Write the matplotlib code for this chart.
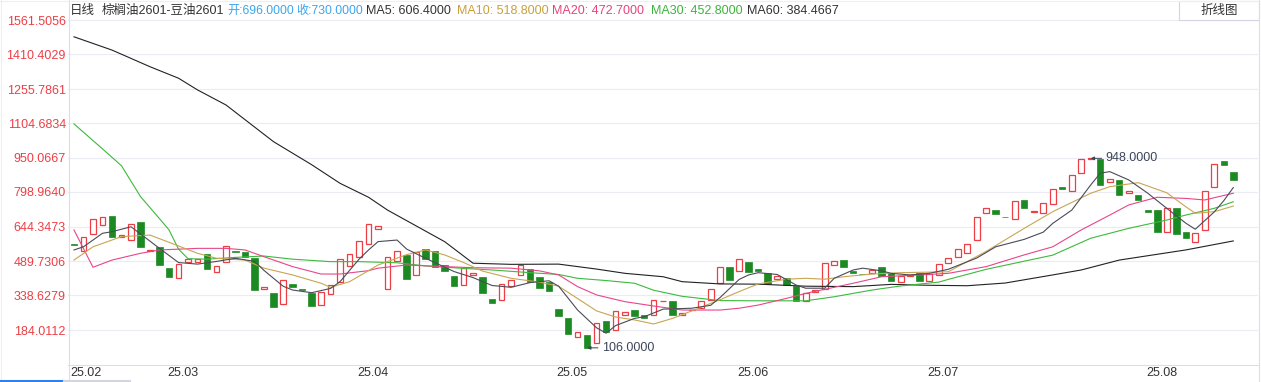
import numpy as np
import matplotlib
matplotlib.use('Agg')
import matplotlib.pyplot as plt
from matplotlib.patches import Rectangle
from matplotlib.lines import Line2D

plt.rcParams['font.family'] = ['Liberation Sans', 'Noto Sans CJK SC', 'DejaVu Sans']

# daily candles (spread 棕榈油2601-豆油2601), no wicks
opens = [568, 536, 612, 652, 692, 598, 585, 665, 538, 554,
         461, 416, 488, 489, 523, 443, 488, 535, 532, 507,
         368, 351, 301, 390, 367, 350, 296, 345, 397, 470,
         510, 567, 634, 368, 492, 519, 430, 547, 536, 473,
         425, 384, 428, 421, 323, 317, 381, 428, 456, 420,
         400, 279, 239, 154, 165, 129, 225, 184, 251, 274,
         251, 252, 312, 314, 251, 272, 282, 320, 393, 467,
         446, 488, 455, 437, 413, 418, 381, 316, 353, 369,
         474, 495, 449, 436, 440, 464, 439, 397, 424, 440,
         404, 430, 484, 511, 529, 585, 704, 717, 689, 677,
         762, 708, 706, 745, 819, 804, 883, 946, 946, 842,
         853, 793, 784, 718, 718, 621, 727, 622, 576, 630,
         819, 937, 887]
closes = [564, 599, 679, 687, 598, 607, 656, 554, 542, 474,
          421, 479, 501, 500, 456, 470, 559, 531, 510, 363,
          376, 286, 408, 376, 363, 292, 354, 385, 502, 523,
          581, 656, 647, 510, 536, 412, 532, 500, 464, 446,
          380, 461, 437, 348, 307, 390, 408, 474, 397, 373,
          357, 246, 166, 175, 106, 218, 176, 268, 265, 246,
          240, 317, 316, 252, 262, 276, 313, 369, 467, 409,
          500, 443, 448, 390, 427, 387, 316, 348, 363, 482,
          493, 467, 437, 432, 453, 427, 404, 424, 429, 404,
          434, 479, 504, 544, 567, 689, 727, 699, 686, 757,
          729, 712, 748, 813, 813, 875, 945, 948, 828, 856,
          785, 803, 763, 711, 622, 727, 610, 593, 615, 802,
          921, 920, 852]

# moving averages (candle index -> value)
ma5_idx = [0, 1, 2, 3, 4, 6, 8, 9, 11, 13, 15, 17, 19, 20, 22, 23, 25, 27, 28, 30,
           31, 32, 34, 35, 37, 40, 42, 44, 46, 48, 50, 51, 53, 55, 56, 57, 59, 60, 62, 65,
           67, 68, 70, 71, 72, 74, 76, 77, 79, 80, 82, 83, 85, 86, 88, 90, 92, 95, 97, 100,
           102, 103, 105, 107, 108, 109, 111, 113, 115, 117, 118, 120, 121, 122]
ma5_val = [541, 555, 585, 615, 622, 644, 580, 548, 485, 478, 490, 504, 490, 450, 380, 363, 351, 370, 400, 500,
           541, 578, 585, 545, 504, 445, 418, 383, 375, 396, 404, 380, 274, 195, 171, 205, 237, 244, 278, 282,
           295, 330, 410, 430, 440, 432, 385, 371, 371, 415, 452, 460, 448, 437, 430, 437, 455, 505, 555, 588,
           620, 659, 718, 830, 882, 889, 852, 793, 726, 660, 633, 710, 760, 818]

ma10_idx = [0, 2, 5, 8, 10, 13, 15, 18, 20, 23, 26, 27, 29, 32, 35, 37, 39, 41, 43, 46,
            49, 51, 53, 55, 57, 59, 61, 63, 65, 68, 70, 72, 75, 77, 79, 81, 84, 87, 92, 96,
            100, 103, 107, 109, 112, 115, 117, 118, 120, 122]
ma10_val = [496, 555, 600, 607, 575, 526, 504, 496, 460, 430, 393, 375, 400, 474, 520, 541, 519, 485, 447, 415,
            398, 380, 325, 270, 243, 230, 212, 237, 270, 320, 356, 390, 411, 415, 411, 422, 434, 440, 444, 535,
            637, 711, 793, 822, 840, 795, 733, 704, 711, 736]

ma20_idx = [0, 2, 4, 7, 9, 13, 16, 18, 20, 23, 26, 28, 31, 32, 35, 39, 42, 46, 49, 51,
            53, 55, 58, 61, 64, 68, 70, 72, 75, 77, 79, 82, 85, 89, 92, 96, 100, 103, 106, 109,
            111, 114, 117, 119, 122]
ma20_val = [630, 464, 496, 526, 541, 548, 548, 541, 511, 467, 434, 434, 449, 460, 474, 467, 462, 460, 448, 430,
            378, 341, 311, 292, 274, 274, 282, 296, 326, 348, 366, 393, 422, 430, 437, 467, 519, 555, 630, 696,
            741, 775, 770, 763, 793]

ma30_idx = [0, 3, 5, 7, 9, 10, 11, 12, 14, 17, 20, 23, 27, 30, 34, 37, 41, 44, 48, 51,
            53, 56, 59, 61, 64, 68, 72, 77, 80, 84, 87, 91, 92, 96, 103, 107, 111, 115, 117, 120,
            122]
ma30_val = [1101, 990, 915, 778, 680, 630, 545, 502, 500, 508, 514, 500, 489, 489, 484, 470, 459, 452, 440, 432,
            415, 405, 393, 362, 335, 316, 315, 315, 333, 363, 381, 398, 410, 455, 518, 593, 637, 674, 696, 726,
            755]

ma60_idx = [0, 4, 8, 11, 13, 16, 21, 25, 28, 31, 33, 39, 42, 46, 51, 55, 58, 62, 64, 68,
            72, 77, 82, 86, 90, 94, 98, 103, 106, 110, 117, 122]
ma60_val = [1488, 1429, 1355, 1304, 1252, 1185, 1022, 920, 837, 775, 718, 578, 482, 477, 478, 456, 437, 422, 400, 390,
            389, 380, 378, 388, 384, 382, 394, 430, 452, 496, 541, 581]

y_ticks = [184.0112, 338.6279, 489.7306, 644.3473, 798.9640, 950.0667,
           1104.6834, 1255.7861, 1410.4029, 1561.5056]
month_labels = ['25.02', '25.03', '25.04', '25.05', '25.06', '25.07', '25.08']
month_idx = [0, 10, 30, 51, 70, 90, 113]

title_name = '棕榈油2601-豆油2601'
head_open, head_close = 696.0, 730.0
head_ma = {'MA5': 606.4, 'MA10': 518.8, 'MA20': 472.7, 'MA30': 452.8, 'MA60': 384.4667}

RED = '#ec3f45'
GREEN = '#1c8a22'
MA_COLORS = {'MA5': '#4b4b58', 'MA10': '#c9a552', 'MA20': '#e8468a', 'MA30': '#3cba3c', 'MA60': '#222222'}
EDGE = '#dcdcea'

W, H = 1261, 382
fig = plt.figure(figsize=(W / 100, H / 100), dpi=100)
ax = fig.add_axes([68 / W, 17 / H, 1190 / W, 365 / H])
ax.set_xlim(-0.63, 124.6)
ax.set_ylim(29.8, 1651.5)

o = np.array(opens, dtype=float)
c = np.array(closes, dtype=float)
x = np.arange(len(o))
up = c >= o
bottom = np.minimum(o, c)
height = np.maximum(np.abs(c - o), 2.0)
ax.bar(x[up], height[up], 0.6, bottom[up], facecolor='white', edgecolor=RED,
       linewidth=0.9, zorder=2)
ax.bar(x[~up], height[~up], 0.68, bottom[~up], facecolor=GREEN, edgecolor=GREEN,
       linewidth=0.5, zorder=2)

for name, xi, yi in [('MA60', ma60_idx, ma60_val), ('MA30', ma30_idx, ma30_val),
                     ('MA20', ma20_idx, ma20_val), ('MA10', ma10_idx, ma10_val),
                     ('MA5', ma5_idx, ma5_val)]:
    ax.plot(xi, yi, color=MA_COLORS[name], lw=0.8, zorder=3)

# max / min markers
i_hi = int(np.argmax(np.maximum(o, c)))
i_lo = int(np.argmin(np.minimum(o, c)))
for i, v in [(i_hi, max(o[i_hi], c[i_hi])), (i_lo, min(o[i_lo], c[i_lo]))]:
    ax.annotate('%.4f' % v, xy=(i, v), xytext=(15, 0), textcoords='offset pixels',
                ha='left', va='center', fontsize=9, color='#3c4558',
                arrowprops=dict(arrowstyle='-|>', color='#3c4558', lw=0.7,
                                mutation_scale=5, shrinkA=1, shrinkB=0), zorder=5)

# axes styling
ax.set_yticks(y_ticks)
ax.set_yticklabels(['%.4f' % t for t in y_ticks])
ax.tick_params(axis='y', length=0, pad=1.5, labelcolor=RED, labelsize=9)
ax.set_xticks([])
ax.grid(axis='y', color='#ebebf4', lw=0.8, zorder=0)
ax.set_axisbelow(True)
for s in ['top', 'right', 'left']:
    ax.spines[s].set_visible(False)
ax.spines['bottom'].set_color(EDGE)
ax.spines['bottom'].set_linewidth(0.8)

xl = ax.get_xlim()[0]
for lab, i in zip(month_labels, month_idx):
    pos = xl + 0.2 if i == month_idx[0] else i - 0.2
    ax.text(pos, -7.5 / 365, lab, transform=ax.get_xaxis_transform(),
            ha='left', va='center', fontsize=9, color='#333333')

# frame lines
fig.add_artist(Line2D([68.5 / W, 68.5 / W], [0, 1], color=EDGE, lw=0.8))
fig.add_artist(Line2D([1258.5 / W, 1258.5 / W], [0, 1], color=EDGE, lw=0.8))
fig.add_artist(Line2D([1.5 / W, 1.5 / W], [0, 1], color='#eeeef5', lw=0.8))
fig.add_artist(Line2D([0, 1], [1 - 0.5 / H, 1 - 0.5 / H], color='#eeeef5', lw=0.8))
fig.add_artist(Line2D([0, 64 / W], [1 / H, 1 / H], color='#2f80ed', lw=1.5))
fig.add_artist(Line2D([64 / W, 130 / W], [1 / H, 1 / H], color='#d5d5de', lw=1.5))

# header
hy = 1 - 11 / H
header = [(69.5, '日线', '#333333', 9),
          (102, title_name, '#333333', 9),
          (227, '开:%.4f' % head_open, '#3ba6ee', 8.7),
          (296, '收:%.4f' % head_close, '#3ba6ee', 8.7),
          (365.5, 'MA5: %.4f' % head_ma['MA5'], '#333333', 9),
          (457, 'MA10: %.4f' % head_ma['MA10'], '#c9a03c', 9),
          (552, 'MA20: %.4f' % head_ma['MA20'], '#e8437c', 9),
          (651, 'MA30: %.4f' % head_ma['MA30'], '#3cb43c', 9),
          (747, 'MA60: %.4f' % head_ma['MA60'], '#333333', 9)]
for px, txt, col, fs in header:
    fig.text(px / W, hy, txt, ha='left', va='center', fontsize=fs, color=col)

btn = Rectangle((1179 / W, 1 - 19.5 / H), 80 / W, 18.5 / H, transform=fig.transFigure,
                facecolor='white', edgecolor='#d4d4e4', lw=0.8)
fig.patches.append(btn)
fig.text(1219 / W, 1 - 10.5 / H, '折线图', ha='center', va='center', fontsize=9, color='#333333')

fig.savefig('out.png', dpi=100)
